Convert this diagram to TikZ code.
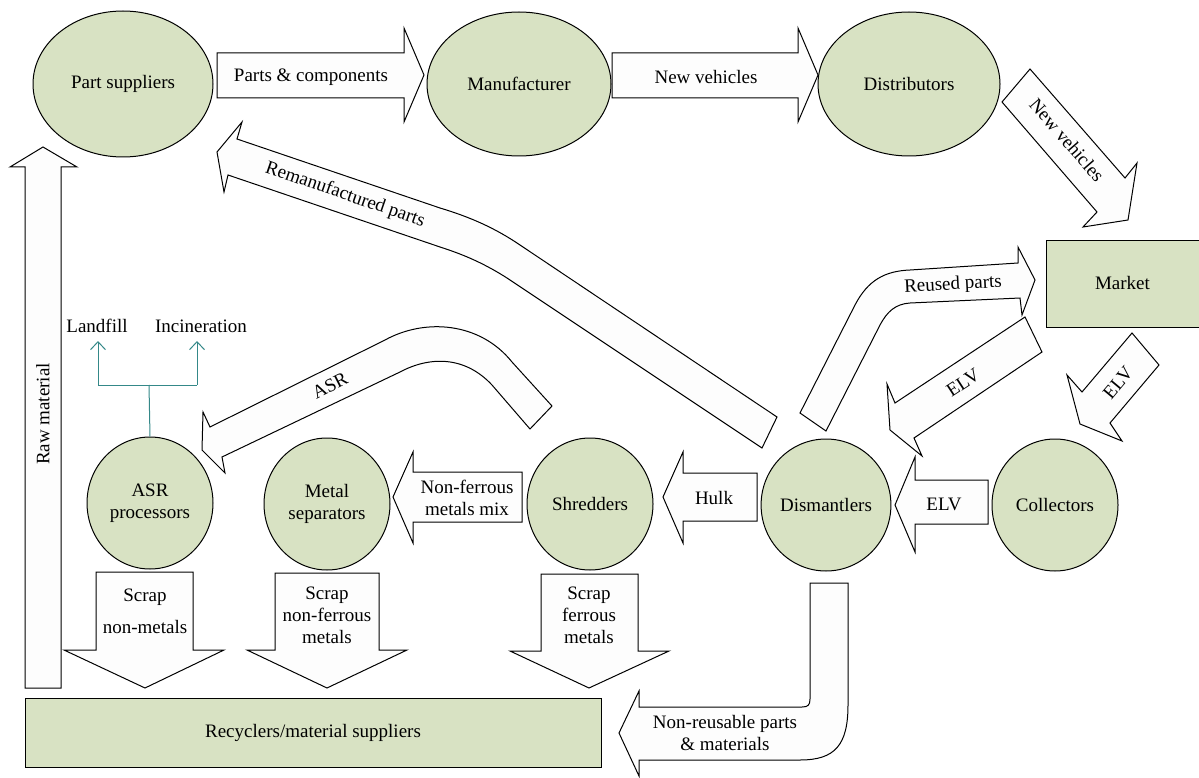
\documentclass[tikz,border=0pt]{standalone}
\usepackage{fontspec}
\setmainfont{Liberation Serif}
\usetikzlibrary{shapes.geometric,arrows.meta}
\definecolor{entgreen}{RGB}{216,226,195}
\definecolor{arrfill}{RGB}{253,253,253}
\definecolor{tealline}{RGB}{52,136,136}
\newcommand\lbfont{\fontsize{19}{22}\selectfont}
\begin{document}
\begin{tikzpicture}[x=1pt,y=-1pt,
  ent/.style={ellipse,draw,fill=entgreen,line width=1pt,inner sep=0pt,font=\lbfont,align=center},
  boxent/.style={rectangle,draw,fill=entgreen,line width=1pt,inner sep=0pt,font=\lbfont,align=center},
  blk/.style={draw,fill=arrfill,line width=1pt,line join=miter},
  lbl/.style={font=\lbfont,align=center,inner sep=0pt},
  side/.style={draw=tealline,line width=1pt},
  sidearrow/.style={draw=tealline,line width=1pt,-{Straight Barb[length=8pt,width=15pt,line width=1pt]}}]
\useasboundingbox (0,0) rectangle (1199,778);

% entities
\node[ent,minimum width=180,minimum height=146] (ps) at (123,84) {Part suppliers};
\node[ent,minimum width=184,minimum height=144] (mf) at (519,84) {Manufacturer};
\node[ent,minimum width=182,minimum height=144] (ds) at (909,84) {Distributors};
\node[boxent,minimum width=153,minimum height=87] (mk) at (1122.5,283.5) {Market};
\node[ent,minimum width=126,minimum height=132] (co) at (1055,505) {Collectors};
\node[ent,minimum width=126,minimum height=132] (dm) at (826,505) {Dismantlers};
\node[ent,minimum width=126,minimum height=132] (sh) at (590,504) {Shredders};
\node[ent,minimum width=126,minimum height=132] (ms) at (327,504) {Metal\\separators};
\node[ent,minimum width=126,minimum height=132] (asr) at (150,503) {ASR\\processors};
\node[boxent,minimum width=576,minimum height=69] (rc) at (313,732.5) {Recyclers/material suppliers};

% block arrows
\path[blk] (217,53) -- (404,53) -- (404,28) -- (424,75) -- (404,122) -- (404,98) -- (217,98) -- cycle;
\node[lbl] (lpc) at (311,77) {Parts \& components};

\path[blk] (612,53) -- (798,53) -- (798,28) -- (818,75) -- (798,122) -- (798,98) -- (612,98) -- cycle;
\node[lbl] (lnv1) at (706,77) {New vehicles};

\path[blk] (1002,102) -- (1030,69) -- (1125,178) -- (1137,163) -- (1128,220) -- (1083,227) -- (1097,212) -- cycle;
\node[lbl,rotate=-49] (lnv2) at (1067,140) {New vehicles};

\path[blk] (800,413) -- (855,305) .. controls (868,280) and (885,271) .. (910,270) -- (1018,263) -- (1018,247) -- (1035,280) -- (1022,315) -- (1020,298) -- (910,303) .. controls (895,304) and (887,312) .. (880,325) -- (826,431) -- cycle;
\node[lbl,rotate=3] (lrp) at (953,285) {Reused parts};

\path[blk] (1025,317) -- (895,403) -- (887,384) -- (890,430) -- (922,456) -- (914,438) -- (1042,352) -- cycle;
\node[lbl,rotate=33] (lelv1) at (963,383) {ELV};

\path[blk] (1132,333) -- (1082,392) -- (1067,375) -- (1080,424) -- (1122,441) -- (1110,423) -- (1159,365) -- cycle;
\node[lbl,rotate=50] (lelv2) at (1118,383) {ELV};

\path[blk] (988,480) -- (915,480) -- (915,457) -- (895,505) -- (915,552) -- (915,524) -- (988,524) -- cycle;
\node[lbl] (lelv3) at (944,504) {ELV};

\path[blk] (757,473) -- (683,473) -- (683,452) -- (663,497) -- (683,543) -- (683,521) -- (757,521) -- cycle;
\node[lbl] (lhulk) at (714,498) {Hulk};

\path[blk] (522,472) -- (413,472) -- (413,452) -- (393,497) -- (413,543) -- (413,522) -- (522,522) -- cycle;
\node[lbl] (lnf) at (467,498) {Non-ferrous\\metals mix};

\path[blk] (96,572) -- (193,572) -- (193,650) -- (224,650) -- (145,688) -- (64,650) -- (96,650) -- cycle;
\node[lbl,font=\fontsize{19}{32}\selectfont] (lsnm) at (145,611) {Scrap\\non-metals};

\path[blk] (275,573) -- (379,573) -- (379,650) -- (407,650) -- (327,688) -- (247,650) -- (275,650) -- cycle;
\node[lbl] (lsnf) at (327,615) {Scrap\\non-ferrous\\metals};

\path[blk] (541,574) -- (638,574) -- (638,651) -- (669,651) -- (589,688) -- (510,651) -- (541,651) -- cycle;
\node[lbl] (lsf) at (589,615) {Scrap\\ferrous\\metals};

\path[blk] (25,688) -- (25,167) -- (10,167) -- (43,147) -- (77,167) -- (61,167) -- (61,688) -- cycle;
\node[lbl,rotate=90] (lraw) at (43,414) {Raw material};

\path[blk] (237,139) -- (242,122) -- (217,152) -- (224,192) -- (228,175) -- (440,247) .. controls (465,255) and (485,264) .. (507,278) -- (762,448) -- (777,417) -- (520,245) .. controls (495,228) and (470,217) .. (440,208) -- cycle;
\node[lbl,rotate=-19] (lrem) at (345,195) {Remanufactured parts};

\path[blk] (552,406) -- (512,362) .. controls (480,322) and (425,318) .. (385,340) -- (210,427) -- (203,412) -- (202,450) -- (225,473) -- (222,457) -- (400,372) .. controls (430,356) and (465,356) .. (492,385) -- (530,429) -- cycle;
\node[lbl,rotate=27] (lasr) at (330,386) {ASR};

\path[blk] (810,583) -- (848,583) -- (848,705) .. controls (848,745) and (835,760) .. (800,760) -- (639,760) -- (639,776) -- (619,733) -- (639,691) -- (639,707) -- (802,707) .. controls (808,707) and (810,705) .. (810,699) -- cycle;
\node[lbl] (lnr) at (725,733) {Non-reusable parts\\\& materials};

% landfill / incineration
\node[lbl] (lf) at (97,326) {Landfill};
\node[lbl] (inc) at (201,326) {Incineration};
\coordinate (jn) at (149,385);
\coordinate (jl) at (98,385);
\coordinate (jr) at (197,385);
\draw[side] (asr.north) -- (jn);
\draw[side] (jl) -- (jr);
\draw[sidearrow] (jl) -- (98,341);
\draw[sidearrow] (jr) -- (197,341);
\end{tikzpicture}
\end{document}
